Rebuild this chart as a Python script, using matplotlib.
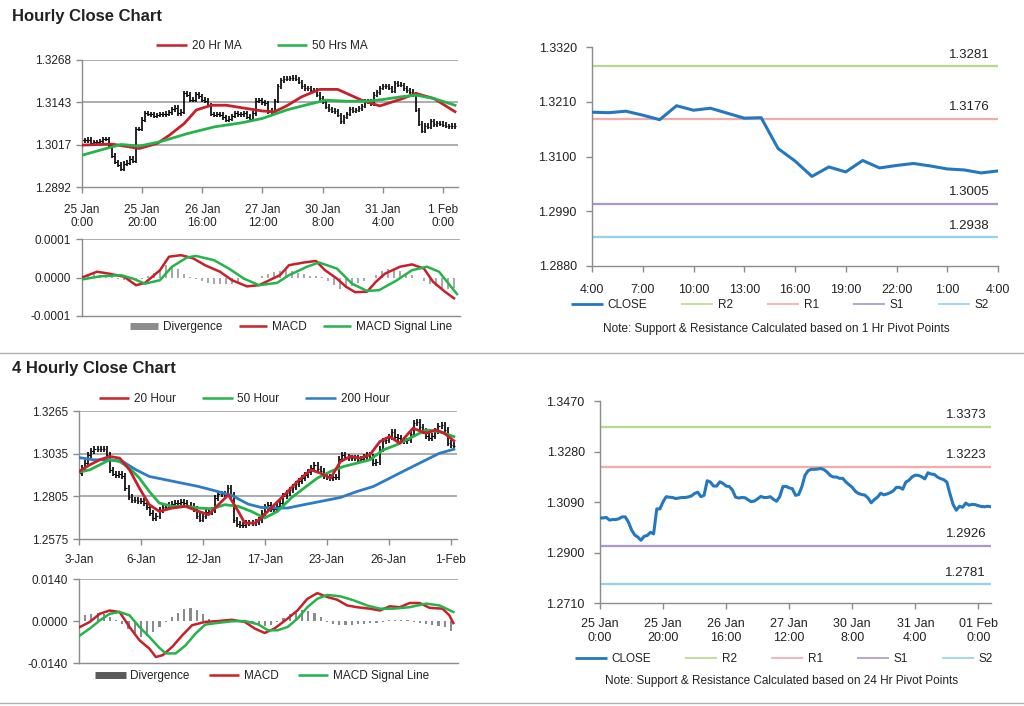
import numpy as np
import matplotlib
matplotlib.use('Agg')
import matplotlib.pyplot as plt
from matplotlib.lines import Line2D

plt.rcParams['font.family'] = ['Liberation Sans', 'DejaVu Sans']
plt.rcParams['font.size'] = 8.5
plt.rcParams['text.color'] = '#222222'
plt.rcParams['xtick.labelcolor'] = '#222222'
plt.rcParams['ytick.labelcolor'] = '#222222'
plt.rcParams['xtick.color'] = '#8c8c8c'
plt.rcParams['ytick.color'] = '#8c8c8c'

#%% Data
# hourly closes, 25 Jan 0:00 -> 1 Feb 4:00 (125 bars)
close_1h = [1.3030, 1.3030, 1.3032, 1.3022, 1.3024, 1.3024, 1.3027, 1.3034, 1.3034, 1.3015,
            1.2985, 1.2966, 1.2958, 1.2946, 1.2961, 1.2964, 1.2976, 1.2970, 1.3064, 1.3064,
            1.3091, 1.3110, 1.3108, 1.3107, 1.3103, 1.3105, 1.3107, 1.3107, 1.3109, 1.3113,
            1.3122, 1.3127, 1.3110, 1.3115, 1.3170, 1.3165, 1.3150, 1.3150, 1.3166, 1.3160,
            1.3150, 1.3148, 1.3135, 1.3108, 1.3105, 1.3107, 1.3106, 1.3098, 1.3091, 1.3094,
            1.3102, 1.3111, 1.3107, 1.3107, 1.3110, 1.3100, 1.3093, 1.3110, 1.3148, 1.3149,
            1.3143, 1.3140, 1.3115, 1.3118, 1.3147, 1.3190, 1.3208, 1.3213, 1.3213, 1.3214,
            1.3216, 1.3212, 1.3203, 1.3190, 1.3184, 1.3184, 1.3179, 1.3179, 1.3165, 1.3155,
            1.3145, 1.3130, 1.3122, 1.3118, 1.3116, 1.3105, 1.3087, 1.3099, 1.3108, 1.3123,
            1.3117, 1.3120, 1.3125, 1.3132, 1.3145, 1.3145, 1.3138, 1.3165, 1.3172, 1.3185,
            1.3191, 1.3190, 1.3185, 1.3177, 1.3200, 1.3195, 1.3194, 1.3184, 1.3178, 1.3174,
            1.3165, 1.3120, 1.3080, 1.3059, 1.3074, 1.3070, 1.3086, 1.3078, 1.3081, 1.3080,
            1.3076, 1.3073, 1.3072, 1.3074, 1.3072]
ticks_1h = ['25 Jan\n0:00', '25 Jan\n20:00', '26 Jan\n16:00', '27 Jan\n12:00',
            '30 Jan\n8:00', '31 Jan\n4:00', '1 Feb\n0:00']
ticks_1h_br = ['25 Jan\n0:00', '25 Jan\n20:00', '26 Jan\n16:00', '27 Jan\n12:00',
               '30 Jan\n8:00', '31 Jan\n4:00', '01 Feb\n0:00']

ma20_1h_x = [0, 10, 19, 25, 29, 34, 38, 43, 48, 55, 60, 64, 68, 73, 79, 85, 93, 99, 106, 111, 117, 124]
ma20_1h = [1.3016, 1.3019, 1.3006, 1.3021, 1.3045, 1.3080, 1.3120, 1.3134, 1.3134, 1.3124, 1.3117,
           1.3115, 1.3132, 1.3159, 1.3181, 1.3181, 1.3149, 1.3132, 1.3152, 1.3169, 1.3154, 1.3115]
ma50_1h_x = [0, 6, 13, 19, 26, 35, 44, 53, 60, 68, 75, 81, 88, 95, 100, 106, 111, 117, 124]
ma50_1h = [1.2986, 1.3001, 1.3018, 1.3013, 1.3026, 1.3050, 1.3070, 1.3082, 1.3095, 1.3120,
           1.3136, 1.3149, 1.3146, 1.3146, 1.3151, 1.3159, 1.3164, 1.3154, 1.3134]

macd_1h_x = [0, 5, 9, 14, 18, 21, 26, 29, 33, 37, 41, 46, 50, 55, 59, 63, 66, 69, 74, 78,
             81, 85, 88, 91, 95, 98, 101, 106, 110, 114, 117, 121, 124]
macd_1h = [0.0, 1.5, 1.0, 0.2, -2.0, -1.4, 1.9, 5.4, 5.8, 5.0, 3.2, 1.5, -0.7, -2.3, -2.0,
           -0.5, 0.6, 3.2, 3.9, 4.3, 1.9, -0.3, -2.4, -3.8, -3.7, -1.1, 1.0, 2.8, 3.4, 2.3,
           -1.1, -3.7, -5.4]
sig_1h_x = [0, 6, 13, 17, 21, 26, 30, 35, 38, 44, 49, 54, 59, 65, 69, 75, 79, 85, 90, 95,
            99, 105, 110, 115, 119, 125]
sig_1h = [-0.5, 0.3, 0.6, -0.3, -1.6, -0.7, 2.8, 5.2, 5.6, 4.5, 2.3, -0.3, -2.0, -1.4, 0.6,
          2.8, 3.9, 2.3, -1.6, -3.5, -3.3, -0.7, 1.9, 2.8, 1.5, -4.3]
# divergence every 2 bars (x1e-5)
div_1h = [0.2, 0.5, 0.8, 0.6, 0.4, 0.2, -0.3, -0.6, -0.8, -0.7, -0.3, 0.3, 1.2, 2.3, 3.2, 3.0,
          2.2, 1.0, 0.2, -0.5, -1.0, -1.3, -1.6, -1.8, -1.8, -1.7, -1.2, -0.6, -0.2, 0.0, 0.5,
          1.0, 1.3, 1.7, 1.9, 1.6, 1.2, 0.8, 0.5, 0.3, 0.1, -0.8, -2.0, -3.0, -2.8, -2.3, -1.5,
          -0.8, -0.2, 0.6, 1.8, 2.2, 2.1, 1.8, 1.2, 0.6, 0.0, -0.8, -1.6, -2.3, -2.8, -3.0, -2.6]

# last 24 hours, 31 Jan 4:00 -> 1 Feb 4:00
close_24 = [1.3189, 1.3188, 1.3191, 1.3183, 1.3174, 1.3202, 1.3193, 1.3197, 1.3187, 1.3177,
            1.3178, 1.3116, 1.3091, 1.3060, 1.3079, 1.3069, 1.3092, 1.3077, 1.3082, 1.3086,
            1.3081, 1.3075, 1.3073, 1.3067, 1.3071]
ticks_24 = ['4:00', '7:00', '10:00', '13:00', '16:00', '19:00', '22:00', '1:00', '4:00']
piv_1h = {'R2': 1.3281, 'R1': 1.3176, 'S1': 1.3005, 'S2': 1.2938}
piv_24h = {'R2': 1.3373, 'R1': 1.3223, 'S1': 1.2926, 'S2': 1.2781}

# 4 hourly closes, 3 Jan -> 1 Feb (122 bars)
close_4h = [1.2929, 1.2960, 1.2985, 1.3030, 1.3050, 1.3058, 1.3058, 1.3058, 1.3062, 1.3030,
            1.2945, 1.2928, 1.2920, 1.2926, 1.2915, 1.2850, 1.2800, 1.2787, 1.2785, 1.2780,
            1.2780, 1.2770, 1.2745, 1.2715, 1.2688, 1.2700, 1.2731, 1.2749, 1.2749, 1.2757,
            1.2765, 1.2767, 1.2767, 1.2772, 1.2768, 1.2758, 1.2755, 1.2735, 1.2700, 1.2680,
            1.2697, 1.2722, 1.2722, 1.2730, 1.2795, 1.2818, 1.2815, 1.2818, 1.2850, 1.2812,
            1.2675, 1.2657, 1.2650, 1.2650, 1.2659, 1.2659, 1.2659, 1.2667, 1.2676, 1.2715,
            1.2745, 1.2757, 1.2735, 1.2738, 1.2752, 1.2770, 1.2805, 1.2821, 1.2838, 1.2855,
            1.2871, 1.2888, 1.2905, 1.2922, 1.2938, 1.2956, 1.2973, 1.2950, 1.2940, 1.2915,
            1.2911, 1.2906, 1.2908, 1.2911, 1.3005, 1.3026, 1.3018, 1.3010, 1.3010, 1.3010,
            1.3002, 1.3008, 1.3017, 1.3026, 1.3015, 1.2982, 1.2990, 1.3060, 1.3102, 1.3111,
            1.3125, 1.3150, 1.3127, 1.3118, 1.3110, 1.3101, 1.3106, 1.3140, 1.3200, 1.3204,
            1.3180, 1.3155, 1.3132, 1.3120, 1.3130, 1.3157, 1.3182, 1.3190, 1.3165, 1.3090,
            1.3082, 1.3075]
ticks_4h = ['3-Jan', '6-Jan', '12-Jan', '17-Jan', '23-Jan', '26-Jan', '1-Feb']

ma20_4h_x = [0, 3.5, 6.7, 9.9, 13.1, 16.3, 19.5, 22.7, 25.9, 30.1, 34.4, 38.6, 41.8, 45, 48.2,
             51.4, 53.5, 56.7, 58.8, 62, 66.3, 70.5, 74.8, 77.9, 81.2, 84.4, 87.6, 90.7, 93.9,
             97.1, 100.3, 103.5, 107.8, 112, 115.2, 117.9, 121]
ma20_4h = [1.2939, 1.2975, 1.3002, 1.3020, 1.3011, 1.2948, 1.2849, 1.2760, 1.2724, 1.2742,
           1.2751, 1.2724, 1.2706, 1.2760, 1.2813, 1.2724, 1.2661, 1.2661, 1.2688, 1.2742,
           1.2813, 1.2885, 1.2948, 1.2930, 1.2903, 1.2993, 1.3020, 1.3011, 1.3029, 1.3100,
           1.3127, 1.3091, 1.3172, 1.3145, 1.3163, 1.3145, 1.3104]
ma50_4h_x = [0, 3.5, 6.7, 9.9, 13.1, 16.3, 19.5, 22.7, 25.9, 30.1, 34.4, 38.6, 42.9, 47.1,
             51.4, 55.6, 59.9, 64.1, 68.4, 72.6, 76.9, 81.2, 85.4, 89.7, 93.9, 98.2, 102.4,
             107.8, 112, 116.3, 121]
ma50_4h = [1.2935, 1.2948, 1.2975, 1.3002, 1.2993, 1.2957, 1.2903, 1.2831, 1.2769, 1.2751,
           1.2751, 1.2742, 1.2738, 1.2760, 1.2751, 1.2724, 1.2688, 1.2724, 1.2795, 1.2849,
           1.2903, 1.2939, 1.2966, 1.2984, 1.3002, 1.3055, 1.3082, 1.3127, 1.3163, 1.3154,
           1.3127]
ma200_4h_x = [0, 4.6, 9.9, 14.1, 18.4, 22.7, 28, 33.3, 38.6, 43.9, 49.3, 54.6, 58.8, 63.1,
              67.3, 72.6, 79, 84.4, 89.7, 95, 100.3, 105.6, 111, 116.3, 121]
ma200_4h = [1.3014, 1.3002, 1.3002, 1.2993, 1.2948, 1.2912, 1.2894, 1.2876, 1.2858, 1.2835,
            1.2810, 1.2763, 1.2745, 1.2742, 1.2742, 1.2760, 1.2781, 1.2799, 1.2831, 1.2858,
            1.2903, 1.2948, 1.2993, 1.3037, 1.3059]

macd_4h_x = [0.3, 3.5, 6.7, 9.9, 13.1, 16.3, 19.5, 22.7, 24.8, 27, 30.1, 33.3, 36.5, 40.7, 45,
             49.3, 53.5, 56.7, 59.9, 63.1, 67.3, 70.5, 73.7, 76.9, 80.1, 83.3, 86.5, 89.7,
             93.9, 97.1, 100.3, 103.5, 106.7, 109.9, 113.1, 117.3, 119.5, 120.8]
macd_4h = [-2.0, -0.3, 2.4, 3.5, 3.0, -2.0, -6.4, -9.2, -12.0, -11.4, -8.6, -4.8, -1.4, -0.3,
           0.0, 0.4, -0.3, -2.5, -4.0, -2.5, 0.8, 3.5, 7.4, 9.3, 8.0, 7.1, 5.2, 4.6, 4.1, 3.5,
           4.9, 4.6, 6.0, 6.0, 4.4, 4.1, 1.9, -0.7]
sig_4h_x = [0.3, 3.5, 6.7, 9.9, 13.1, 16.3, 19.5, 22.7, 25.9, 28, 31.2, 34.4, 37.6, 40.7, 45,
            49.3, 53.5, 57.8, 61, 64.1, 67.3, 70.5, 73.7, 76.9, 80.1, 84.4, 88.6, 92.9, 97.1,
            101.4, 106.7, 112, 116.3, 120.8]
sig_4h = [-4.8, -2.5, 0.2, 2.4, 3.0, 1.9, -2.0, -5.3, -8.9, -10.8, -10.8, -8.1, -4.2, -1.2,
          -0.6, -0.1, 0.0, -1.1, -3.1, -3.1, -2.0, 0.8, 4.6, 7.4, 8.7, 8.2, 6.9, 5.2, 4.1, 4.1,
          4.6, 5.8, 5.2, 3.0]
# divergence every 2 bars (x1e-3)
div_4h = [1.8, 2.0, 2.3, 2.6, 2.3, 1.5, 0.3, -1.0, -2.5, -4.0, -5.3, -5.0, -3.8, -2.0, -0.3,
          1.2, 2.8, 4.0, 4.3, 3.6, 2.2, 0.8, 0.3, 0.2, 0.4, 0.5, 0.3, 0.1, -0.5, -1.2, -1.5,
          -1.2, -0.2, 1.0, 2.2, 3.3, 3.8, 3.5, 2.6, 1.2, -0.3, -1.0, -1.3, -1.4, -1.3, -1.1,
          -0.9, -0.7, -0.5, -0.3, 0.2, 0.3, 0.2, 0.3, -0.3, -0.6, -0.9, -1.2, -1.5, -2.0, -3.2]

#%% Styles
red = '#c8202a'
green = '#25b34b'
blue = '#2d7cc4'
close_col = '#2378bf'
piv_col = {'R2': '#b8d98c', 'R1': '#f1aca9', 'S1': '#ab97cf', 'S2': '#93d2ea'}
grid_col = '#a6a6a6'
spine_col = '#8c8c8c'
W, H = 1024, 706


def fig_box(x0, y0, x1, y1):
    return [x0 / W, 1 - y1 / H, (x1 - x0) / W, (y1 - y0) / H]


def style_axis(ax):
    for s in ['top', 'right']:
        ax.spines[s].set_visible(False)
    for s in ['left', 'bottom']:
        ax.spines[s].set_color(spine_col)
        ax.spines[s].set_linewidth(1)
    ax.tick_params(axis='both', direction='out', length=4, width=1, pad=4)
    ax.set_facecolor('none')


def draw_bars(ax, closes, wick):
    c = np.array(closes)
    x = np.arange(len(c))
    o = np.r_[c[0], c[:-1]]
    lo = np.minimum(o, c) - wick
    hi = np.maximum(o, c) + wick
    ax.vlines(x, lo, hi, color='black', lw=1.2, zorder=2)
    ax.hlines(c, x, x + 0.5, color='black', lw=0.8, zorder=2)


def price_grid(ax, levels):
    ax.set_yticks(levels)
    ax.set_yticklabels([f'{v:.4f}' for v in levels])
    for v in levels[1:]:
        ax.axhline(v, color=grid_col, lw=1.3, zorder=1)


def macd_panel(ax, mx, m, sx, s, dx, d, lim, xmax, bar_col):
    ax.bar(dx, d, width=0.7, color=bar_col, zorder=1)
    ax.plot(mx, m, color=red, lw=1.8, zorder=3)
    ax.plot(sx, s, color=green, lw=1.8, zorder=3)
    ax.set_xlim(0, xmax)
    ax.set_ylim(-lim, lim)
    ax.set_yticks([-lim, 0, lim])
    ax.set_yticklabels([f'{v:.4f}' for v in [-lim, 0, lim]])
    ax.axhline(lim, color=grid_col, lw=1.3)
    ax.set_xticks([])


def pivot_panel(ax, closes, piv, ylim, yticks, xticks, xlabels, label_x):
    for k in ['R2', 'R1', 'S1', 'S2']:
        ax.axhline(piv[k], color=piv_col[k], lw=1.6, zorder=1)
        ax.annotate(f'{piv[k]:.4f}', xy=(label_x, piv[k]), xytext=(0, 4),
                    textcoords='offset points', ha='center', va='bottom', fontsize=9.5)
    ax.plot(np.arange(len(closes)), closes, color=close_col, lw=2.2, zorder=3)
    ax.set_ylim(*ylim)
    ax.set_yticks(yticks)
    ax.set_yticklabels([f'{v:.4f}' for v in yticks], fontsize=9)
    ax.set_xticks(xticks)
    ax.set_xticklabels(xlabels, fontsize=9)


def leg_line(c, lw=1.8):
    return Line2D([], [], color=c, lw=lw, solid_capstyle='butt')


fig = plt.figure(figsize=(W / 100, H / 100), dpi=100)

fig.text(12 / W, 1 - 16 / H, 'Hourly Close Chart', fontsize=12, fontweight='bold', va='center')
fig.text(12 / W, 1 - 369 / H, '4 Hourly Close Chart', fontsize=12, fontweight='bold', va='center')
for yy in [353, 703]:
    fig.add_artist(Line2D([0, 1], [1 - yy / H] * 2, transform=fig.transFigure,
                          color='#b0b0b0', lw=1))

#%% Hourly price
ax = fig.add_axes(fig_box(82, 60, 458, 187))
style_axis(ax)
draw_bars(ax, close_1h, 0.0007)
ax.plot(ma20_1h_x, ma20_1h, color=red, lw=2, zorder=3)
ax.plot(ma50_1h_x, ma50_1h, color=green, lw=2, zorder=3)
ax.set_xlim(0, 125)
ax.set_ylim(1.2892, 1.3268)
price_grid(ax, [1.2892, 1.3017, 1.3143, 1.3268])
ax.set_xticks(range(0, 121, 20))
ax.set_xticklabels(ticks_1h)
ax.tick_params(axis='x', pad=8)
fig.legend([leg_line(red), leg_line(green)], ['20 Hr MA', '50 Hrs MA'], loc='center',
           bbox_to_anchor=(262 / W, 1 - 46 / H), ncol=2, frameon=False, fontsize=8.5,
           handlelength=2.6, handletextpad=0.4, columnspacing=3.0)

ax = fig.add_axes(fig_box(82, 239, 460, 316))
style_axis(ax)
macd_panel(ax, macd_1h_x, np.array(macd_1h) * 1e-5, sig_1h_x, np.array(sig_1h) * 1e-5,
           np.arange(0, 125, 2), np.array(div_1h) * 1e-5, 0.0001, 126, '#a8a8a8')
fig.legend([leg_line('#8c8c8c', 5), leg_line(red), leg_line(green)],
           ['Divergence', 'MACD', 'MACD Signal Line'], loc='center',
           bbox_to_anchor=(291 / W, 1 - 327 / H), ncol=3, frameon=False, fontsize=8.5,
           handlelength=2.4, handletextpad=0.4, columnspacing=1.4)

#%% Hourly pivots
ax = fig.add_axes(fig_box(592, 47, 998, 266))
style_axis(ax)
pivot_panel(ax, close_24, piv_1h, (1.2880, 1.3320), [1.2880, 1.2990, 1.3100, 1.3210, 1.3320],
            range(0, 25, 3), ticks_24, 22.3)
ax.set_xlim(0, 24)
ax.tick_params(axis='x', pad=9)
ax.tick_params(axis='y', pad=7)
fig.legend([leg_line(close_col, 2)] + [leg_line(piv_col[k], 1.2) for k in ['R2', 'R1', 'S1', 'S2']],
           ['CLOSE', 'R2', 'R1', 'S1', 'S2'], loc='center', bbox_to_anchor=(780 / W, 1 - 305 / H),
           ncol=5, frameon=False, fontsize=8.5, handlelength=2.7, handletextpad=0.4,
           columnspacing=2.9)
fig.text(776 / W, 1 - 329 / H, 'Note: Support & Resistance Calculated based on 1 Hr Pivot Points',
         ha='center', va='center', fontsize=8.5)

#%% 4 hourly price
ax = fig.add_axes(fig_box(79, 411, 457, 539))
style_axis(ax)
draw_bars(ax, close_4h, 0.0016)
ax.plot(ma200_4h_x, ma200_4h, color=blue, lw=2, zorder=3)
ax.plot(ma50_4h_x, ma50_4h, color=green, lw=2, zorder=3)
ax.plot(ma20_4h_x, ma20_4h, color=red, lw=2, zorder=3)
ax.set_xlim(0, 122)
ax.set_ylim(1.2575, 1.3265)
price_grid(ax, [1.2575, 1.2805, 1.3035, 1.3265])
ax.set_xticks(range(0, 121, 20))
ax.set_xticklabels(ticks_4h)
ax.tick_params(axis='x', pad=7)
fig.legend([leg_line(red), leg_line(green), leg_line(blue)], ['20 Hour', '50 Hour', '200 Hour'],
           loc='center', bbox_to_anchor=(244 / W, 1 - 399 / H), ncol=3, frameon=False,
           fontsize=8.5, handlelength=2.6, handletextpad=0.4, columnspacing=2.2)

ax = fig.add_axes(fig_box(79, 579, 458, 663))
style_axis(ax)
macd_panel(ax, macd_4h_x, np.array(macd_4h) * 1e-3, sig_4h_x, np.array(sig_4h) * 1e-3,
           np.arange(0, 121, 2), np.array(div_4h) * 1e-3, 0.0140, 122.3, '#8a8a8a')
fig.legend([leg_line('#5a5a5a', 5), leg_line(red), leg_line(green)],
           ['Divergence', 'MACD', 'MACD Signal Line'], loc='center',
           bbox_to_anchor=(262 / W, 1 - 676 / H), ncol=3, frameon=False, fontsize=8.5,
           handlelength=2.6, handletextpad=0.4, columnspacing=1.6)

#%% 24 hr pivots
ax = fig.add_axes(fig_box(600, 401, 991, 603))
style_axis(ax)
pivot_panel(ax, close_1h, piv_24h, (1.2710, 1.3470), [1.2710, 1.2900, 1.3090, 1.3280, 1.3470],
            range(0, 121, 20), ticks_1h_br, 116)
ax.set_xlim(0, 124)
ax.tick_params(axis='x', pad=7)
ax.tick_params(axis='y', pad=7)
fig.legend([leg_line(close_col, 2)] + [leg_line(piv_col[k], 1.2) for k in ['R2', 'R1', 'S1', 'S2']],
           ['CLOSE', 'R2', 'R1', 'S1', 'S2'], loc='center', bbox_to_anchor=(784 / W, 1 - 659 / H),
           ncol=5, frameon=False, fontsize=8.5, handlelength=2.7, handletextpad=0.4,
           columnspacing=2.9)
fig.text(782 / W, 1 - 681 / H, 'Note: Support & Resistance Calculated based on 24 Hr Pivot Points',
         ha='center', va='center', fontsize=8.5)

fig.savefig('out.png', dpi=100)
